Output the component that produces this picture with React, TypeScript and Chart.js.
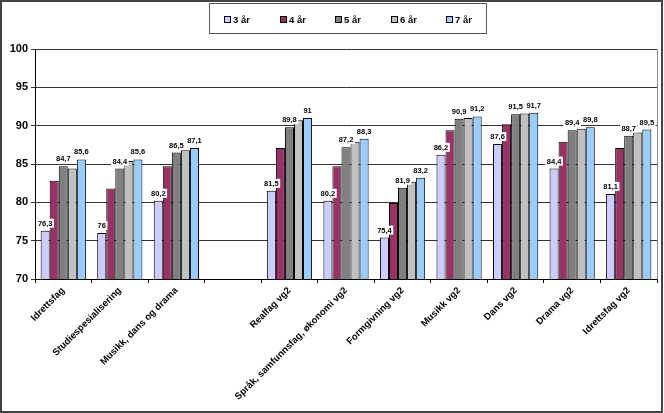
import React, { useEffect, useRef } from "react";
import { Chart, registerables } from "chart.js";

Chart.register(...registerables);

// Programme names along the x axis (the empty slot separates vg1 from vg2)
const categories = [
  "Idrettsfag",
  "Studiespesialisering",
  "Musikk, dans og drama",
  "",
  "Realfag vg2",
  "Språk, samfunnsfag, økonomi vg2",
  "Formgivning vg2",
  "Musikk vg2",
  "Dans vg2",
  "Drama vg2",
  "Idrettsfag vg2",
];

const seriesNames = ["3 år", "4 år", "5 år", "6 år", "7 år"];

const values3 = [76.3, 76, 80.2, null, 81.5, 80.2, 75.4, 86.2, 87.6, 84.4, 81.1];
const values4 = [82.8, 81.8, 84.7, null, 87.1, 84.7, 79.9, 89.4, 90.2, 87.9, 87.1];
const values5 = [84.7, 84.4, 86.5, null, 89.8, 87.2, 81.9, 90.9, 91.5, 89.4, 88.7];
const values6 = [84.4, 85.4, 86.8, null, 90.7, 87.9, 82.7, 91.0, 91.6, 89.6, 89.1];
const values7 = [85.6, 85.6, 87.1, null, 91, 88.3, 83.2, 91.2, 91.7, 89.8, 89.5];

const seriesColors = ["#CCCCFF", "#993366", "#808080", "#C0C0C0", "#99CCFF"];

// Series whose values are printed above the bars
const labelledSeries = [0, 2, 4];

const yTicks = { min: 70, max: 100, step: 5 };

const FONT = '"Liberation Sans", Arial, sans-serif';

const formatValue = (v: number) => String(v).replace(".", ",");

const decorPlugin = {
  id: "decor",
  beforeDraw(chart: any) {
    const ctx = chart.ctx;
    ctx.save();
    ctx.fillStyle = "#ffffff";
    ctx.fillRect(0, 0, chart.width, chart.height);
    ctx.restore();
  },
  afterDatasetsDraw(chart: any) {
    const ctx = chart.ctx;
    ctx.save();
    ctx.font = `bold 7.5px ${FONT}`;
    ctx.textAlign = "center";
    ctx.textBaseline = "alphabetic";
    labelledSeries.forEach((di) => {
      const meta = chart.getDatasetMeta(di);
      const data = chart.data.datasets[di].data;
      meta.data.forEach((el: any, i: number) => {
        const v = data[i];
        if (v === null || v === undefined) return;
        const text = formatValue(v);
        const w = ctx.measureText(text).width;
        const base = el.y - 5;
        ctx.fillStyle = "#ffffff";
        ctx.fillRect(el.x - w / 2 - 1.5, base - 7, w + 3, 9);
        ctx.fillStyle = "#000000";
        ctx.fillText(text, el.x, base);
      });
    });
    ctx.restore();
  },
  afterDraw(chart: any) {
    const ctx = chart.ctx;
    const area = chart.chartArea;
    ctx.save();

    // plot area frame (top and right)
    ctx.strokeStyle = "#8a8a8a";
    ctx.lineWidth = 1;
    ctx.beginPath();
    ctx.moveTo(Math.round(area.right) + 0.5, Math.round(area.top) + 0.5);
    ctx.lineTo(Math.round(area.right) + 0.5, Math.round(area.bottom) + 0.5);
    ctx.stroke();

    // legend box
    const lx = 209, ly = 3, lw = 277, lh = 30;
    ctx.fillStyle = "#ffffff";
    ctx.fillRect(lx, ly, lw, lh);
    ctx.strokeStyle = "#555555";
    ctx.lineWidth = 1;
    ctx.strokeRect(lx + 0.5, ly + 0.5, lw, lh);
    ctx.font = `bold 9.5px ${FONT}`;
    ctx.textBaseline = "middle";
    ctx.textAlign = "left";
    chart.data.datasets.forEach((ds: any, i: number) => {
      const sx = 224 + i * 55.5;
      const sy = 16;
      ctx.fillStyle = seriesColors[i];
      ctx.fillRect(Math.round(sx) + 0.5, sy + 0.5, 6, 6);
      ctx.strokeStyle = "#000000";
      ctx.strokeRect(Math.round(sx) + 0.5, sy + 0.5, 6, 6);
      ctx.fillStyle = "#000000";
      ctx.fillText(ds.label, Math.round(sx) + 9, sy + 4);
    });

    // outer frame
    ctx.strokeStyle = "#444444";
    ctx.lineWidth = 2;
    ctx.strokeRect(1, 1, chart.width - 3, chart.height - 2);
    ctx.restore();
  },
};

export default function App() {
  const canvasRef = useRef<HTMLCanvasElement | null>(null);

  useEffect(() => {
    const canvas = canvasRef.current;
    if (!canvas) return;
    const allValues = [values3, values4, values5, values6, values7];
    const chart = new Chart(canvas, {
      type: "bar",
      data: {
        labels: categories,
        datasets: allValues.map((vals, i) => ({
          label: seriesNames[i],
          data: vals,
          backgroundColor: seriesColors[i],
          borderColor: "#000000",
          borderWidth: 1,
          borderSkipped: false,
          categoryPercentage: 0.8,
          barPercentage: 1.0,
        })),
      },
      options: {
        responsive: false,
        animation: false,
        devicePixelRatio: 1,
        layout: { padding: { left: 0, top: 49, right: 7, bottom: 0 } },
        plugins: {
          legend: { display: false },
          tooltip: { enabled: false },
        },
        scales: {
          x: {
            offset: true,
            grid: {
              offset: true,
              drawOnChartArea: false,
              drawTicks: true,
              tickLength: 4,
              color: "#000000",
            },
            border: { display: true, color: "#000000", width: 1 },
            ticks: {
              minRotation: 45,
              maxRotation: 45,
              autoSkip: false,
              padding: 2,
              color: "#000000",
              font: { family: FONT, size: 9.5, weight: "bold" },
            },
            afterFit(scale: any) {
              scale.height = 134;
            },
          },
          y: {
            min: yTicks.min,
            max: yTicks.max,
            ticks: {
              stepSize: yTicks.step,
              color: "#000000",
              padding: 3,
              font: { family: FONT, size: 11, weight: "bold" },
            },
            grid: {
              color: "#333333",
              lineWidth: 1,
              tickLength: 4,
              drawTicks: true,
            },
            border: { display: true, color: "#000000", width: 1 },
            afterFit(scale: any) {
              scale.width = 35;
            },
          },
        },
      },
      plugins: [decorPlugin],
    });
    return () => chart.destroy();
  }, []);

  return (
    <div style={{ position: "absolute", left: 0, top: 0, width: 664, height: 413 }}>
      <canvas ref={canvasRef} width={664} height={413} style={{ display: "block" }} />
    </div>
  );
}
